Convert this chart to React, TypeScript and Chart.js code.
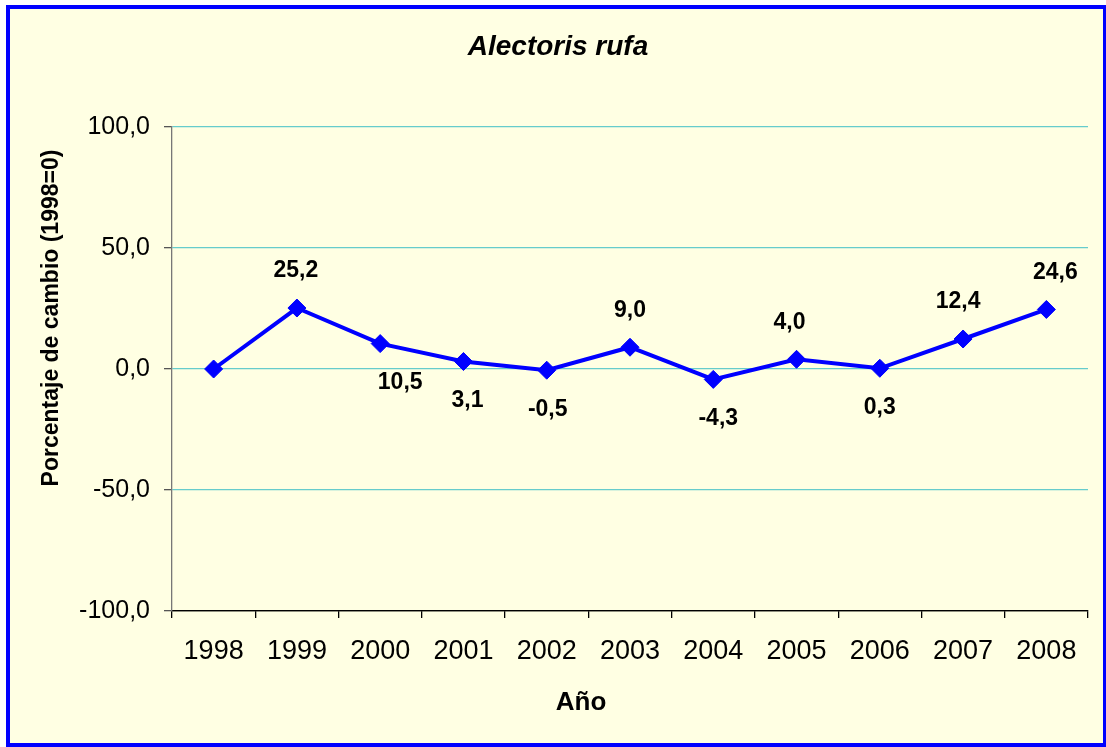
import React, { useEffect, useRef } from "react";
import { Chart, registerables } from "chart.js";

Chart.register(...registerables);

const years: string[] = ["1998", "1999", "2000", "2001", "2002", "2003", "2004", "2005", "2006", "2007", "2008"];
const changePct: number[] = [0, 25.2, 10.5, 3.1, -0.5, 9.0, -4.3, 4.0, 0.3, 12.4, 24.6];
const yTickValues: number[] = [-100, -50, 0, 50, 100];

const chartTitle = "Alectoris rufa";
const yTitle = "Porcentaje de cambio (1998=0)";
const xTitle = "Año";

const FONT = "'Liberation Sans', Arial, sans-serif";
const fmt = (v: number) => v.toFixed(1).replace(".", ",");

const decorPlugin = {
  id: "decor",
  beforeDraw(chart: any) {
    const { ctx, width, height } = chart;
    ctx.save();
    ctx.fillStyle = "#ffffff";
    ctx.fillRect(0, 0, width, height);
    ctx.fillStyle = "#FFFFE3";
    ctx.fillRect(8, 7, 1097, 738);
    ctx.strokeStyle = "#0000FF";
    ctx.lineWidth = 4;
    ctx.strokeRect(8, 7, 1097, 738);
    ctx.restore();
  },
  afterDraw(chart: any, _args: any, opts: any) {
    const { ctx } = chart;
    ctx.save();
    ctx.fillStyle = "#000000";
    ctx.textAlign = "center";
    ctx.textBaseline = "middle";
    ctx.font = `italic bold 28px ${FONT}`;
    ctx.fillText(chartTitle, 558, 47);
    ctx.font = `bold 26px ${FONT}`;
    ctx.fillText(xTitle, 581, 703);
    ctx.save();
    ctx.translate(52, 318);
    ctx.rotate(-Math.PI / 2);
    ctx.font = `bold 23px ${FONT}`;
    ctx.fillText(yTitle, 0, 0);
    ctx.restore();

    // data labels
    const meta = chart.getDatasetMeta(0);
    ctx.font = `bold 23px ${FONT}`;
    const nudge: number[] = opts.nudgeX || [];
    meta.data.forEach((pt: any, i: number) => {
      if (i === 0) return;
      const v = changePct[i];
      const above = v >= changePct[i - 1];
      const dy = above ? -37 : 39;
      ctx.fillText(fmt(v), pt.x + (nudge[i] || 0), pt.y + dy);
    });
    ctx.restore();
  },
};

export default function App() {
  const ref = useRef<HTMLCanvasElement | null>(null);
  useEffect(() => {
    if (!ref.current) return;
    const teal = "#66CCCC";
    const chart = new Chart(ref.current, {
      type: "line",
      data: {
        labels: years,
        datasets: [
          {
            data: changePct,
            borderColor: "#0000FF",
            backgroundColor: "#0000FF",
            borderWidth: 4,
            pointStyle: "rectRot",
            pointRadius: 9,
            pointBorderWidth: 1,
            pointBackgroundColor: "#0000FF",
            pointBorderColor: "#0000FF",
            tension: 0,
          },
        ],
      },
      options: {
        animation: false,
        responsive: false,
        devicePixelRatio: 1,
        layout: { padding: { left: 0, right: 18, top: 127, bottom: 0 } },
        plugins: {
          legend: { display: false },
          tooltip: { enabled: false },
          decor: { nudgeX: [0, -1, 20, 4, 1, 0, 5, -7, 0, -5, 9] },
        } as any,
        scales: {
          x: {
            offset: true,
            grid: {
              offset: true,
              drawOnChartArea: false,
              drawTicks: true,
              tickLength: 7,
              tickColor: "#000000",
              lineWidth: 1.3,
            },
            border: { color: "#000000", width: 1.3 },
            ticks: {
              color: "#000000",
              font: { family: FONT, size: 27 },
              padding: 17,
              maxRotation: 0,
              autoSkip: false,
            },
            afterFit: (s: any) => {
              s.height = 136;
            },
          },
          y: {
            min: -100,
            max: 100,
            afterBuildTicks: (s: any) => {
              s.ticks = yTickValues.map((v) => ({ value: v }));
            },
            grid: {
              color: (c: any) => (c.tick && c.tick.value === -100 ? "#000000" : teal),
              tickColor: "#555555",
              tickLength: 8,
              lineWidth: 1.3,
            },
            border: { color: "#777777", width: 1.3 },
            ticks: {
              color: "#000000",
              font: { family: FONT, size: 25 },
              padding: 14,
              callback: (v: any) => fmt(Number(v)),
            },
            afterFit: (s: any) => {
              s.width = 172;
            },
          },
        },
      },
      plugins: [decorPlugin as any],
    });
    return () => chart.destroy();
  }, []);
  return (
    <div style={{ position: "absolute", left: 0, top: 0, width: 1106, height: 747 }}>
      <canvas ref={ref} width={1106} height={747} style={{ display: "block", width: 1106, height: 747 }} />
    </div>
  );
}
